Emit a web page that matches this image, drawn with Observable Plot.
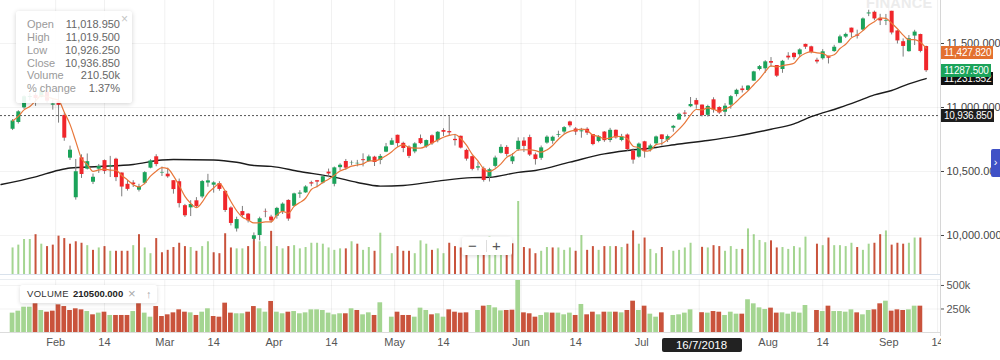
<!DOCTYPE html>
<html><head><meta charset="utf-8">
<script src="https://cdn.jsdelivr.net/npm/d3@7"></script>
<script src="https://cdn.jsdelivr.net/npm/@observablehq/plot@0.6"></script>
<style>
html,body{margin:0;padding:0;background:#fff;}
#wrap{position:relative;width:1000px;height:360px;overflow:hidden;font-family:"Liberation Sans",Arial,Helvetica,sans-serif;background:#fff;}
#wrap svg{position:absolute;left:0;}
.abs{position:absolute;}
.tag{position:absolute;left:941px;height:13px;line-height:13px;padding:0 2px 0 3px;font-size:10px;letter-spacing:-0.2px;color:#fff;white-space:nowrap;}
#tip{left:16px;top:11px;width:116px;height:92px;background:rgba(255,255,255,0.9);border-radius:3px;box-shadow:0 1px 5px rgba(0,0,0,0.18);font-size:11px;z-index:5;}
#tip .row{position:absolute;left:11px;right:12px;height:13px;line-height:13px;}
#tip .row .l{color:#9a9a9a;}
#tip .row .v{position:absolute;right:0;top:0;color:#666;}
#tip .x{position:absolute;left:105px;top:1px;color:#c4c4c4;font-size:12px;}
</style></head><body><div id="wrap"></div>
<script>
// ---------- data ----------
const startDate = "2018-01-19";
const holidays = ["2018-01-26","2018-02-13","2018-03-02","2018-03-29","2018-03-30","2018-05-01","2018-08-15","2018-08-22","2018-09-13"];
const open = [
10830,10883,10997,11078,11095,11079,11120,11018,
11044,10938,10604,10295,10607,10518,10416,10518,10585,10537,10596,10488,10400,10410,10354,10408,10526,10615,10488,
10479,10428,10420,10233,10216,10271,10301,10410,10393,10405,10345,10215,10051,10187,10167,9970,10000,10188,10144,
10151,10186,10274,10228,10323,10333,10412,10428,10410,10495,10400,10530,10578,10563,10560,10592,10578,10612,10586,10651,10705,
10783,10720,10690,10653,10757,10693,10779,10741,10820,10812,10751,10775,10665,10616,10527,10521,10457,10540,10642,10688,10576,10670,
10738,10765,10630,10603,10722,10736,10781,10808,10887,10832,10810,10830,10789,10734,10808,10742,10822,10742,10785,10660,10612,
10732,10668,10716,10786,10744,10838,10902,10956,11006,11054,11018.95,10939,11060,11000,10963,11018,11101,11145,11133,11206,11297,11302,
11359,11328,11297,11401,11423,11412,11493,11474,11369,11381,11397,11437,11502,11550,11620,11566,11605,11731,11744,11694,11675,
11751.8,11598,11514,11436,11558,11570,11476];
const high = [
10906,10975,11092,11110,11111,11171.5,11121,11058,
11117,10954,10698,10594,10630,10637,10480,10555,10590,10618,10604,10489,10429,10428,10400,10499,10592,10631,10535,
10526,10428,10441,10243,10272,10296,10430,10478,10420,10420,10346,10224,10143,10227,10172,10020,10143,10207,10158,
10220,10255,10279,10331,10350,10389,10424,10430,10469,10519,10535,10560,10594,10582,10587,10638,10628,10619,10633,10719,10759,
10784,10729,10700,10725,10785,10746,10786,10812,10834,10929,10790,10777,10674,10621,10573,10535,10525,10620,10709,10702,10640,10763,
10764,10784,10644,10699,10779,10776,10815,10851,10893,10843,10837,10842,10789,10781,10812,10837,10824,10790,10793,10676,10723,
10736,10713,10777,10786,10785,10860,10956,10976,11078,11071,11019.5,11018,11076,11006,11030,11093,11143,11167,11172,11283,11328,11366,
11390,11328,11368,11428,11428,11459,11495,11479,11385,11452,11400,11486,11565,11581,11620,11604,11700,11760.2,11753,11728,11727,
11751.8,11602,11536,11562,11603,11573,11479];
const low = [
10820,10871,10985,11050,11009,11075,11033,10979,
10878,10736,10586,10276,10446,10512,10398,10485,10478,10453,10421,10302,10347,10375,10340,10396,10521,10537,10461,
10447,10323,10215,10141,10148,10211,10288,10377,10331,10346,10180,10075,10027,10142,10098,9951.9,9958,10139,10096,
10128,10164,10111,10225,10290,10329,10381,10373,10402,10451,10380,10505,10509,10546,10536,10536,10571,10539,10553,10647,10704,
10689,10647,10601,10639,10710,10681,10704,10724,10774,10781,10699,10676,10581,10505,10505,10417,10418,10527,10636,10614,10555,10658,
10648,10617,10550,10587,10713,10713,10764,10791,10842,10782,10760,10782,10701,10724,10728,10725,10753,10732,10659,10557,10604,
10604,10652,10705,10699,10726,10807,10901,10923,10999,10987,10926.25,10925,10956,10946,10934,10987,11083,11113,11125,11205,11286,11267,
11313,11234,11267,11370,11370,11394,11454,11419,11340,11370,11340,11431,11499,11539,11546,11535,11595,11710,11678,11640,11640,
11567,11496,11393.8,11432,11484,11427,11274];
const close = [
10894.7,10966.2,11083.7,11086,11069.7,11130.4,11049.7,11027.7,
11016.9,10760.6,10666.5,10498.2,10476.7,10576.8,10455,10539.7,10500.9,10545.5,10452.3,10378.4,10360.4,10397.4,10382.7,10491,10582.6,10554.3,10492.8,
10458.3,10358.8,10249.2,10154.2,10242.6,10226.8,10421.4,10426.8,10410.9,10360.1,10195.1,10094.2,10124.3,10155.2,10114.7,9998,10130.6,10184.1,10113.7,
10211.8,10245,10128.4,10325.1,10331.6,10379.3,10402.2,10417.1,10458.6,10480.6,10528.3,10548.7,10526.2,10565.3,10564,10584.7,10614.3,10570.5,10617.8,10692.3,10739.3,
10718,10679.6,10618.2,10715.5,10717.8,10741.7,10716.5,10806.5,10806.6,10801.8,10741.1,10682.7,10596.4,10516.7,10536.7,10430.3,10513.8,10605.1,10688.6,10633.3,10614.3,10736.1,
10696.2,10628.5,10593.1,10684.6,10768.3,10767.6,10786.9,10842.8,10856.7,10808,10817.7,10799.8,10710.4,10772,10741.1,10821.8,10762.4,10769.1,10671.4,10589.1,10714.3,
10657.3,10699.9,10769.9,10749.7,10772.6,10852.9,10947.2,10948.3,11023.2,11018.9,10936.85,11008,10980.4,10957.1,11010.2,11084.7,11134.3,11132,11167.3,11278.3,11319.5,11356.5,
11346.2,11244.7,11360.8,11387.1,11389.4,11450,11470.7,11429.5,11355.7,11435.1,11385,11470.7,11551.7,11570.9,11582.7,11557.1,11691.9,11738.5,11691.9,11676.8,11680.5,
11582.3,11520.3,11476.9,11536.9,11589.1,11438.1,11287.5];
const prevClose = 10817; // close of the session before the first candle
// volume in thousands (null = no bar drawn)
const volume = [
206,227,269,269,305,234,216,227,
294,276,234,252,241,223,188,206,216,181,181,181,181,223,305,206,163,276,170,
188,209,241,216,209,181,216,252,170,163,312,206,199,199,216,276,252,216,330,
216,199,216,223,199,209,241,241,234,206,188,199,199,252,234,188,209,181,316,null,163,
216,181,181,163,259,234,188,199,163,241,216,206,209,null,234,280,287,262,230,234,237,553,
209,199,163,181,209,206,206,188,206,181,298,188,216,188,216,216,216,209,234,333,234,
280,195,163,209,null,181,188,206,241,null,210.5,206,223,216,181,216,195,195,348,305,262,245,
259,206,209,195,216,206,287,null,234,223,280,223,223,216,241,209,188,234,241,305,333,
227,241,234,241,280,280,null];
// long moving average (slot index, value)
const maLongSlot = [-2,4,8,10,15,21,26,28,35,39,42,45,50,56,60,64,68,74,80,83,88,91,97,103,107,112,116,121,126,132,136,139,144,147,150,153,156,159];
const maLongVal  = [10398,10458,10510,10527,10539,10555,10590,10594,10590,10572,10547,10540,10500,10456,10414,10386,10391,10425,10452,10455,10493,10508,10573,10638,10664,10688,10715,10742,10776,10830,10872,10928,11000,11048,11098,11133,11185,11226];
const priceTicks = [10000,10500,11000,11500];
const volTicks = [250,500];
const tickDates  = ["2018-02-01","2018-02-14","2018-03-01","2018-03-14","2018-04-01","2018-04-14","2018-05-01","2018-05-14","2018-06-01","2018-06-14","2018-07-01","2018-07-14","2018-08-01","2018-08-14","2018-09-01","2018-09-14"];
const tickLabels = ["Feb","14","Mar","14","Apr","14","May","14","Jun","14","Jul","","Aug","14","Sep","14"];
const hoverDate = "2018-07-16";
const hoverLabel = "16/7/2018";
const pctChange = "1.37%";
const maShortLast = "11,427.820";
const maLongLast = "11,231.552";
const tipLabels = ["Open","High","Low","Close","Volume","% change"];

// ---------- calendar (trading sessions) ----------
const tradingDates = [];
{
  let t = Date.parse(startDate + "T00:00:00Z");
  while (tradingDates.length < close.length + 12) {
    const dt = new Date(t), wd = dt.getUTCDay(), iso = dt.toISOString().slice(0, 10);
    if (wd !== 0 && wd !== 6 && !holidays.includes(iso)) tradingDates.push(iso);
    t += 864e5;
  }
}
const candles = close.map((c, k) => ({
  k, date: tradingDates[k], open: open[k], high: high[k], low: low[k], close: c,
  vol: volume[k], up: c >= open[k], volUp: c >= (k ? close[k - 1] : prevClose)
}));
const tickPos = tickDates.map((t, j) => {
  const k = tradingDates.findIndex(s => s >= t);
  return (tickDates[j].endsWith("-14") && tradingDates[k] === t) ? k : k - 0.5;
});
const labelled = tickPos.filter((p, j) => tickLabels[j] !== "");
const labelOf = new Map(tickPos.map((p, j) => [p, tickLabels[j]]));
const maLong = maLongSlot.map((s, j) => ({s, v: maLongVal[j]}));
const hk = tradingDates.indexOf(hoverDate);
const hc = candles[hk];

// ---------- styling ----------
const G = "#1ba35a", R = "#f0262b", VG = "#a4d591", VR = "#c9533c";
const font = "Liberation Sans, Arial, Helvetica, sans-serif";
const xDomain = [-2.1, 161.5];
const wrap = document.getElementById("wrap");

// bottom volume panel
const volPanel = Plot.plot({
  width: 1000, height: 90, marginLeft: 0, marginRight: 60, marginTop: 10, marginBottom: 28,
  style: {background: "transparent", fontFamily: font, fontSize: "11px", color: "#555", overflow: "visible"},
  color: {type: "identity"},
  x: {type: "linear", domain: xDomain, ticks: labelled, tickFormat: d => labelOf.get(d), tickSize: 0, tickPadding: 6, label: null},
  y: {domain: [0, 553], axis: "right", ticks: volTicks, tickFormat: d => d + "k", tickSize: 3, tickPadding: 3, label: null},
  marks: [
    Plot.ruleX(tickPos, {stroke: "#000", strokeOpacity: 0.06}),
    Plot.ruleY(volTicks, {stroke: "#000", strokeOpacity: 0.05}),
    Plot.rectY(candles, {x1: d => d.k - 0.41, x2: d => d.k + 0.41, y: "vol", fill: d => d.volUp ? VG : VR}),
    Plot.ruleY([0], {stroke: "#dcdcdc"})
  ]
});
volPanel.style.top = "270px";
wrap.appendChild(volPanel);

// volume overlay in main panel
const volOverlay = Plot.plot({
  width: 1000, height: 275, marginLeft: 0, marginRight: 60, marginTop: 0, marginBottom: 0,
  style: {background: "transparent"},
  color: {type: "identity"},
  x: {type: "linear", domain: xDomain, axis: null},
  y: {domain: [0, 2055], axis: null},
  marks: [
    Plot.ruleX(candles, {x: "k", y1: 0, y2: "vol", stroke: d => d.volUp ? VG : VR, strokeWidth: 2})
  ]
});
volOverlay.style.top = "0px";
wrap.appendChild(volOverlay);

// main price panel
const main = Plot.plot({
  width: 1000, height: 275, marginLeft: 0, marginRight: 60, marginTop: 0, marginBottom: 0,
  style: {background: "transparent", fontFamily: font, fontSize: "11px", color: "#444", overflow: "visible"},
  color: {type: "identity"},
  x: {type: "linear", domain: xDomain, axis: null},
  y: {domain: [9687.5, 11835.9], axis: "right", ticks: priceTicks, tickFormat: d3.format(",.3f"), tickSize: 3, tickPadding: 3, label: null},
  marks: [
    Plot.ruleY(priceTicks, {stroke: "#000", strokeOpacity: 0.05}),
    Plot.ruleX(tickPos, {stroke: "#000", strokeOpacity: 0.06}),
    Plot.ruleY([hc.close], {stroke: "#555", strokeDasharray: "2,2"}),
    Plot.line(maLong, {x: "s", y: "v", stroke: "#1c1c1c", strokeWidth: 1.4, curve: "monotone-x"}),
    Plot.ruleX(candles, {x: "k", y1: "low", y2: "high", stroke: "#7d7d7d", strokeWidth: 1}),
    Plot.ruleX(candles, {x: "k", y1: "open", y2: "close", stroke: d => d.up ? G : R, strokeWidth: 4}),
    Plot.lineY(candles, Plot.windowY({k: 4, anchor: "end"}, {x: "k", y: "close", stroke: "#e8773a", strokeWidth: 1.2, curve: "monotone-x"}))
  ]
});
main.style.top = "0px";
wrap.appendChild(main);

// ---------- html furniture ----------
function el(css, html, cls) {
  const d = document.createElement("div");
  d.className = cls || "abs";
  d.style.cssText += css;
  if (html != null) d.innerHTML = html;
  wrap.appendChild(d);
  return d;
}
// right border, separators
el("left:940px;top:0;width:1px;height:336px;background:#d6d6d6;");
el("left:0;top:274px;width:940px;height:1px;background:#d9e2ec;");
el("left:0;top:279px;width:940px;height:1px;background:#e9edf1;");
// watermark
el("left:866px;top:-5px;font-size:14.5px;font-weight:bold;color:#ececec;letter-spacing:0.3px;", "FINANCE");

// price tags on the right, placed with the chart's y scale
const ys = main.scale("y");
const fmt3 = d3.format(",.3f");
function tag(value, text, bg) {
  return el("top:" + (ys.apply(value) - 6.5) + "px;background:" + bg + ";", text, "tag");
}
tag(maLongVal[maLongVal.length - 1], maLongLast, "#111");
tag(close[close.length - 1], d3.format(".3f")(close[close.length - 1]), "#1ba35a");
tag(11427.82, maShortLast, "#e3702f");
tag(hc.close, fmt3(hc.close), "#1d1d1d");

// blue side tab
el("left:991px;top:149px;width:9px;height:28px;background:#4051c6;border-radius:2px 0 0 2px;color:#fff;font-size:11px;line-height:26px;text-align:center;", "&#8250;");

// tooltip
const tip = el("", null);
tip.id = "tip";
const tipValues = [fmt3(hc.open), fmt3(hc.high), fmt3(hc.low), fmt3(hc.close), d3.format(".2f")(hc.vol) + "k", pctChange];
tipLabels.forEach((l, j) => {
  const r = document.createElement("div");
  r.className = "row";
  r.style.top = (6.8 + 12.9 * j) + "px";
  r.innerHTML = '<span class="l">' + l + '</span><span class="v">' + tipValues[j] + '</span>';
  tip.appendChild(r);
});
const tx = document.createElement("div"); tx.className = "x"; tx.textContent = "\u00d7"; tip.appendChild(tx);

// zoom control
el("left:462px;top:237px;width:50px;height:18px;background:#fff;border-radius:2px;box-shadow:0 1px 4px rgba(0,0,0,0.15);color:#555;font-size:15px;line-height:18px;z-index:4;",
  '<span style="position:absolute;left:6px;">\u2212</span><span style="position:absolute;left:24px;top:3px;width:1px;height:12px;background:#ddd;"></span><span style="position:absolute;left:30px;">+</span>');

// volume legend box
el("left:20px;top:285px;width:137px;height:18px;background:#fff;border-radius:2px;box-shadow:0 1px 4px rgba(0,0,0,0.15);font-size:9.5px;line-height:18px;color:#333;z-index:4;",
  '<span style="position:absolute;left:7px;letter-spacing:0.3px;">VOLUME</span><span style="position:absolute;left:53px;font-weight:bold;color:#222;">' + d3.format(".3f")(hc.vol * 1000) + '</span><span style="position:absolute;left:108px;color:#aaa;font-size:13px;">\u00d7</span><span style="position:absolute;left:126px;color:#aaa;font-size:11px;">\u2191</span>');

// cover right of axis and crosshair date label
el("left:941px;top:334px;width:59px;height:26px;background:#fff;");
const xs = main.scale("x");
el("left:" + (xs.apply(hk) - 40) + "px;top:338px;width:80px;height:14px;background:#222;border-radius:2px;color:#fff;font-size:11.5px;line-height:14px;text-align:center;", hoverLabel);
</script>
</body></html>
